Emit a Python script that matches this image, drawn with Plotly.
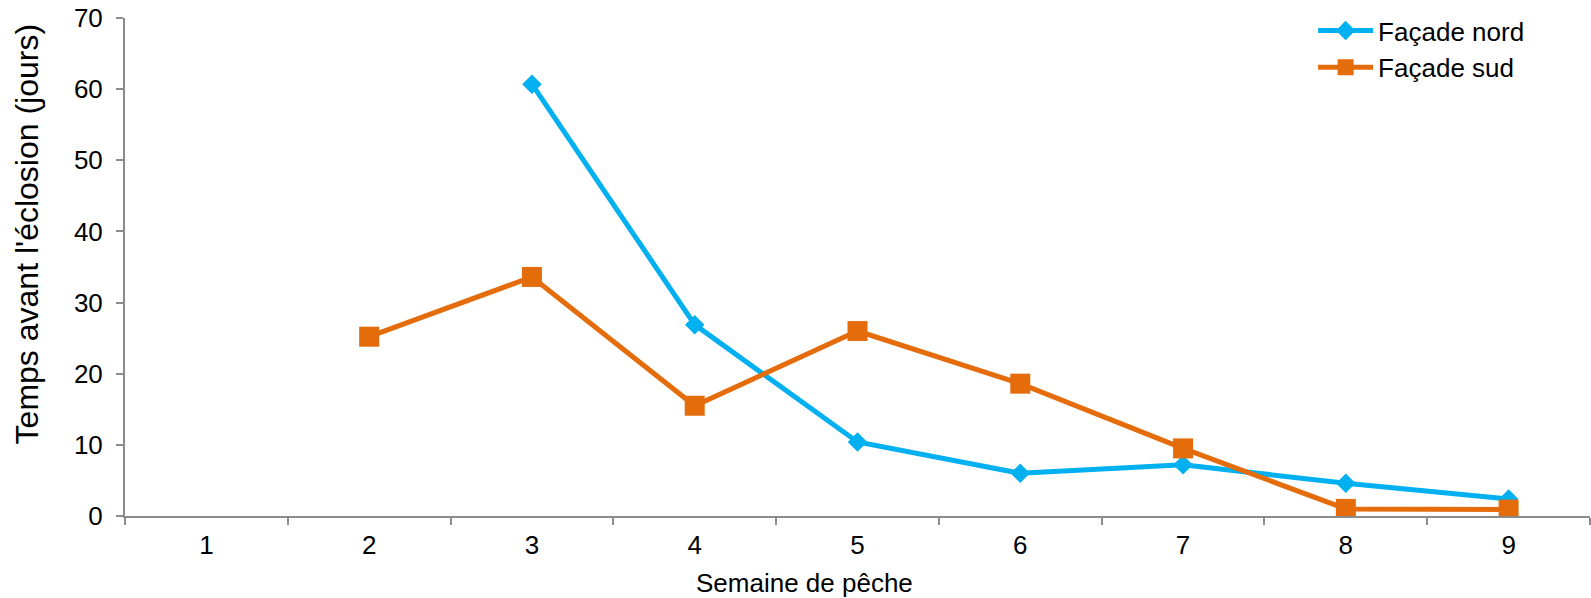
import plotly.graph_objects as go

# Semaine de pêche (catégories) et temps avant éclosion par façade
semaines = ["1", "2", "3", "4", "5", "6", "7", "8", "9"]
facade_nord = [None, None, 60.7, 26.9, 10.4, 6.0, 7.2, 4.6, 2.4]
facade_sud = [None, 25.2, 33.6, 15.5, 26.0, 18.6, 9.5, 1.0, 0.9]
y_ticks = [0, 10, 20, 30, 40, 50, 60, 70]

BLUE = "#00B0F0"
ORANGE = "#E46C0A"
AXIS = "#8C8C8C"
FONT = "Liberation Sans, Arial, sans-serif"

fig = go.Figure()
fig.add_trace(go.Scatter(
    x=semaines, y=facade_nord, name="Façade nord", mode="lines+markers",
    line=dict(color=BLUE, width=5), connectgaps=False,
    marker=dict(symbol="diamond", size=15, color=BLUE),
))
fig.add_trace(go.Scatter(
    x=semaines, y=facade_sud, name="Façade sud", mode="lines+markers",
    line=dict(color=ORANGE, width=5), connectgaps=False,
    marker=dict(symbol="square", size=20, color=ORANGE),
))

fig.update_layout(
    width=1591, height=598,
    margin=dict(l=125, r=1, t=18, b=82),
    plot_bgcolor="white", paper_bgcolor="white",
    font=dict(family=FONT, color="black"),
    showlegend=True,
    legend=dict(
        x=0.811, y=1.022, xanchor="left", yanchor="top",
        font=dict(size=26, family=FONT), itemwidth=55,
        bgcolor="rgba(0,0,0,0)", tracegroupgap=0,
    ),
)
# axis titles as free-standing text, each a little off-centre
fig.add_annotation(
    text="Semaine de pêche", xref="paper", yref="paper",
    x=0.464, y=-0.135, xanchor="center", yanchor="middle",
    showarrow=False, font=dict(size=26, family=FONT, color="black"),
)
fig.add_annotation(
    text="Temps avant l'éclosion (jours)", xref="paper", yref="paper",
    x=-0.0669, y=0.5675, xanchor="center", yanchor="middle", textangle=-90,
    showarrow=False, font=dict(size=32, family=FONT, color="black"),
)
fig.update_xaxes(
    type="category", categoryorder="array", categoryarray=semaines,
    range=[-0.5, 8.5],
    showline=True, linecolor=AXIS, linewidth=2,
    ticks="outside", tickson="boundaries", ticklen=7, tickcolor=AXIS, tickwidth=2,
    tickfont=dict(size=26), showgrid=False, zeroline=False,
    ticklabelstandoff=5,
)
fig.update_yaxes(
    range=[0, 70], tickvals=y_ticks,
    showline=True, linecolor=AXIS, linewidth=2,
    ticks="outside", ticklen=7, tickcolor=AXIS, tickwidth=2,
    tickfont=dict(size=26), showgrid=False, zeroline=False,
    ticklabelstandoff=8,
)

fig.write_html("out.html")
